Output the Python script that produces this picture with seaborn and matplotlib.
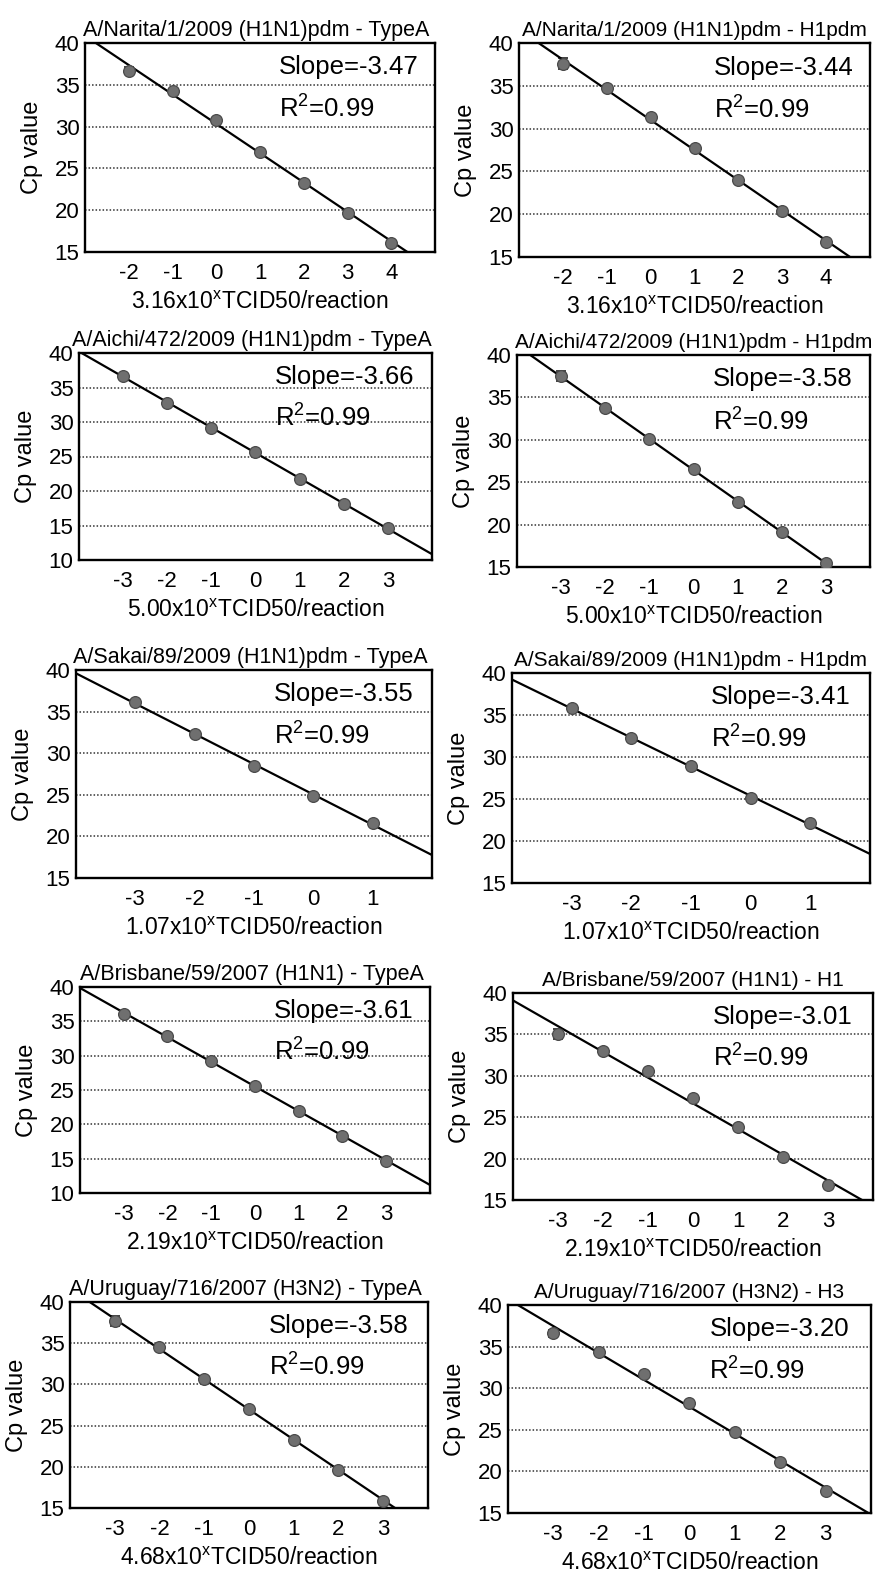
import matplotlib
matplotlib.use("Agg")
import matplotlib.pyplot as plt
import seaborn as sns
import numpy as np
import pandas as pd

# ---------------- data ----------------
titles = [
    "A/Narita/1/2009 (H1N1)pdm - TypeA",
    "A/Narita/1/2009 (H1N1)pdm - H1pdm",
    "A/Aichi/472/2009 (H1N1)pdm - TypeA",
    "A/Aichi/472/2009 (H1N1)pdm - H1pdm",
    "A/Sakai/89/2009 (H1N1)pdm - TypeA",
    "A/Sakai/89/2009 (H1N1)pdm - H1pdm",
    "A/Brisbane/59/2007 (H1N1) - TypeA",
    "A/Brisbane/59/2007 (H1N1) - H1",
    "A/Uruguay/716/2007 (H3N2) - TypeA",
    "A/Uruguay/716/2007 (H3N2) - H3",
]
dose_prefix = ["3.16", "3.16", "5.00", "5.00", "1.07", "1.07", "2.19", "2.19", "4.68", "4.68"]
slopes = ["-3.47", "-3.44", "-3.66", "-3.58", "-3.55", "-3.41", "-3.61", "-3.01", "-3.58", "-3.20"]
r2 = ["0.99"] * 10

x_narita = [-2, -1, 0, 1, 2, 3, 4]
x_aichi = [-3, -2, -1, 0, 1, 2, 3]
x_sakai = [-3, -2, -1, 0, 1]
x_brisbane = [-3, -2, -1, 0, 1, 2, 3]
x_uruguay = [-3, -2, -1, 0, 1, 2, 3]

cp_narita_typeA = [36.7, 34.2, 30.8, 27.0, 23.3, 19.7, 16.1]
cp_narita_h1pdm = [37.6, 34.7, 31.3, 27.7, 24.0, 20.4, 16.7]
cp_aichi_typeA = [36.6, 32.8, 29.2, 25.6, 21.8, 18.1, 14.6]
cp_aichi_h1pdm = [37.5, 33.7, 30.1, 26.5, 22.7, 19.1, 15.5]
cp_sakai_typeA = [36.1, 32.3, 28.5, 24.9, 21.6]
cp_sakai_h1pdm = [35.8, 32.3, 28.9, 25.1, 22.1]
cp_brisbane_typeA = [36.0, 32.9, 29.2, 25.6, 21.9, 18.3, 14.7]
cp_brisbane_h1 = [35.0, 33.0, 30.6, 27.3, 23.8, 20.2, 16.8]
cp_uruguay_typeA = [37.7, 34.5, 30.7, 27.0, 23.3, 19.6, 15.9]
cp_uruguay_h3 = [36.6, 34.4, 31.7, 28.2, 24.7, 21.1, 17.6]

err_narita_typeA = [0.4, 0.2, 0.2, 0.2, 0.2, 0.2, 0.2]
err_narita_h1pdm = [0.6, 0.2, 0.2, 0.2, 0.2, 0.2, 0.2]
err_aichi_typeA = [0.3, 0.2, 0.3, 0.2, 0.2, 0.2, 0.2]
err_aichi_h1pdm = [0.6, 0.3, 0.2, 0.2, 0.2, 0.2, 0.3]
err_sakai_typeA = [0.2, 0.2, 0.2, 0.2, 0.2]
err_sakai_h1pdm = [0.2, 0.2, 0.2, 0.2, 0.2]
err_brisbane_typeA = [0.3, 0.2, 0.3, 0.2, 0.2, 0.2, 0.2]
err_brisbane_h1 = [0.6, 0.3, 0.2, 0.3, 0.2, 0.2, 0.2]
err_uruguay_typeA = [0.6, 0.2, 0.2, 0.2, 0.2, 0.2, 0.2]
err_uruguay_h3 = [0.4, 0.2, 0.2, 0.2, 0.2, 0.2, 0.2]

xs = [x_narita, x_narita, x_aichi, x_aichi, x_sakai, x_sakai,
      x_brisbane, x_brisbane, x_uruguay, x_uruguay]
ys = [cp_narita_typeA, cp_narita_h1pdm, cp_aichi_typeA, cp_aichi_h1pdm,
      cp_sakai_typeA, cp_sakai_h1pdm, cp_brisbane_typeA, cp_brisbane_h1,
      cp_uruguay_typeA, cp_uruguay_h3]
errs = [err_narita_typeA, err_narita_h1pdm, err_aichi_typeA, err_aichi_h1pdm,
        err_sakai_typeA, err_sakai_h1pdm, err_brisbane_typeA, err_brisbane_h1,
        err_uruguay_typeA, err_uruguay_h3]

xlims = [(-3, 5), (-3, 5), (-4, 4), (-4, 4), (-4, 2), (-4, 2), (-4, 4), (-4, 4), (-4, 4), (-4, 4)]
ylims = [(15, 40), (15, 40), (10, 40), (15, 40), (15, 40), (15, 40), (10, 40), (15, 40), (15, 40), (15, 40)]

# ---------------- layout (pixel boxes: left, right, top, bottom) ----------------
W, H = 879, 1573
boxes = [
    (85, 435, 43, 252), (519, 870, 43, 257),
    (79, 432, 353, 560), (517, 870, 355, 567),
    (76, 432, 670, 878), (512, 870, 673, 883),
    (80, 430, 987, 1193), (513, 873, 993, 1200),
    (70, 428, 1302, 1508), (508, 871, 1305, 1513),
]

sns.set_theme(style="white")
plt.rcParams["font.family"] = ["Liberation Sans", "DejaVu Sans"]
plt.rcParams["mathtext.fontset"] = "custom"
plt.rcParams["mathtext.rm"] = "Liberation Sans"
plt.rcParams["mathtext.it"] = "Liberation Sans:italic"
plt.rcParams["mathtext.bf"] = "Liberation Sans:bold"

fig = plt.figure(figsize=(W / 100, H / 100), dpi=100)
fig.patch.set_facecolor("white")

for i in range(10):
    l, r, t, b = boxes[i]
    ax = fig.add_axes([l / W, 1 - b / H, (r - l) / W, (b - t) / H])
    ax.set_facecolor("white")
    ax.set_xlim(*xlims[i])
    ax.set_ylim(*ylims[i])
    y0, y1 = ylims[i]
    yt = list(range(y0, y1 + 1, 5))
    ax.set_yticks(yt)
    ax.set_xticks(xs[i])
    ax.set_xticklabels([str(v) for v in xs[i]])
    for g in yt[1:-1]:
        ax.axhline(g, color="#333333", linestyle=(0, (1, 1.3)), linewidth=1.1, zorder=0.5)

    df = pd.DataFrame({"dose": xs[i], "cp": ys[i]})
    ax.errorbar(df["dose"], df["cp"], yerr=errs[i], fmt="none", ecolor="#333333",
                elinewidth=1.3, capsize=3.5, capthick=1.3, zorder=2)
    sns.regplot(data=df, x="dose", y="cp", ax=ax, ci=None, truncate=False,
                scatter_kws=dict(s=72, color="#6f6f6f", edgecolor="#4a4a4a",
                                 linewidths=0.9, alpha=1, zorder=3),
                line_kws=dict(color="black", linewidth=1.6, zorder=2.5))
    ax.set_xlim(*xlims[i])
    ax.set_ylim(*ylims[i])

    for s in ax.spines.values():
        s.set_visible(True)
        s.set_color("black")
        s.set_linewidth(1.7)
    ax.tick_params(axis="both", length=0, labelsize=16, colors="black")
    ax.tick_params(axis="x", pad=8)
    ax.tick_params(axis="y", pad=4)

    if i % 2 == 0:
        ax.set_title(titles[i], fontsize=15.5, pad=5, color="black", x=0.49)
    else:
        ax.set_title(titles[i], fontsize=15, pad=5, color="black", x=0.5)
    ax.set_ylabel("Cp value", fontsize=17, labelpad=8, color="black")
    ax.set_xlabel(dose_prefix[i] + r"x10$^{\mathrm{x}}$TCID50/reaction",
                  fontsize=16.5, labelpad=5, color="black")

    ax.text(0.555, 0.885, "Slope=" + slopes[i], transform=ax.transAxes,
            fontsize=18.5, ha="left", va="center", color="black", zorder=4)
    ax.text(0.555, 0.685, r"R$^{2}$=" + r2[i], transform=ax.transAxes,
            fontsize=18.5, ha="left", va="center", color="black", zorder=4)

fig.savefig("out.png", dpi=100, facecolor="white")
